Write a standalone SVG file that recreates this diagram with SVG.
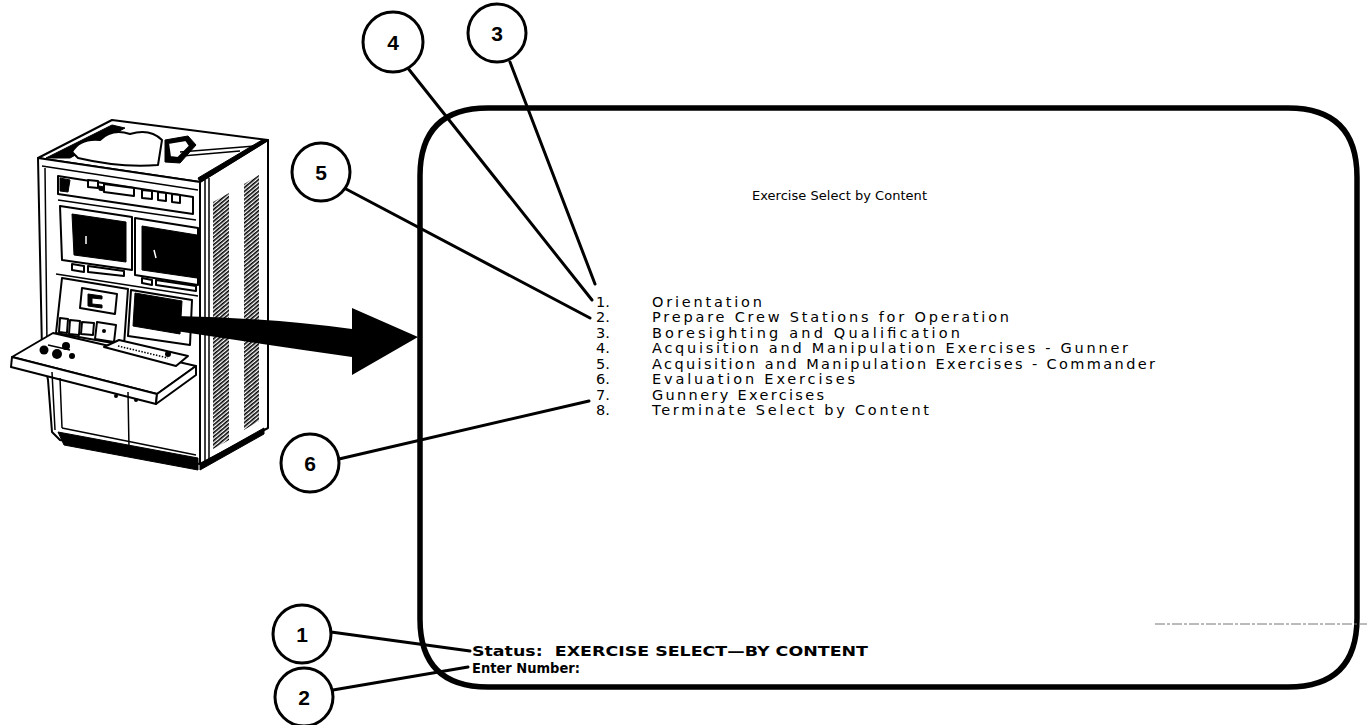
<svg xmlns="http://www.w3.org/2000/svg" width="1367" height="725" viewBox="0 0 1367 725">
  <defs>
    <style>
      .callout circle { fill: #fff; stroke: #000; stroke-width: 3; }
      .callout text { font-family: "Liberation Sans", Arial, sans-serif; font-weight: bold; font-size: 21px; text-anchor: middle; fill: #000; }
      .leader { stroke: #000; stroke-width: 3; fill: none; stroke-linecap: round; }
      .scr { font-family: "DejaVu Sans", "Liberation Sans", sans-serif; font-size: 14.5px; fill: #000; }
      .scrb { font-family: "DejaVu Sans", "Liberation Sans", sans-serif; font-size: 14.5px; font-weight: bold; fill: #000; }
      .ink { stroke: #000; fill: #fff; stroke-width: 2; stroke-linejoin: round; }
      .solid { fill: #000; stroke: #000; stroke-width: 1; stroke-linejoin: round; }
      .thin { stroke: #000; fill: none; stroke-width: 1.5; }
    </style>
    <pattern id="vent" width="3" height="3" patternUnits="userSpaceOnUse" patternTransform="rotate(-40)">
      <rect width="3" height="1.6" fill="#000"/>
    </pattern>
  </defs>

  <rect width="1367" height="725" fill="#fff"/>

  <!-- trainer cabinet illustration -->
  <g id="trainer-cabinet">
    <!-- side panel -->
    <path class="ink" d="M200,182 L268,140 L268,428 L200,464 Z" stroke-width="2.5"/>
    <path class="thin" d="M205,180 L205,462 M209,178 L209,460"/>
    <path d="M213,202 L229,193 L229,440 L213,449 Z" fill="url(#vent)"/>
    <path d="M244,184 L259,175 L259,421 L244,430 Z" fill="url(#vent)"/>
    <!-- top -->
    <path class="ink" d="M38,158 L112,120 L268,140 L200,182 Z" stroke-width="3"/>
    <path class="solid" d="M46,158 L112,125 L125,128 L70,158 Z"/>
    <path class="ink" d="M72,152 Q80,138 100,140 Q112,128 130,134 Q150,128 162,140 L158,165 Q120,168 78,158 Z" stroke-width="1.5"/>
    <path class="solid" d="M165,140 L188,136 L196,145 L180,163 L165,162 Z"/>
    <path class="ink" d="M168,143 L186,140 L190,146 L178,158 L170,157 Z" stroke-width="1"/>
    <path class="thin" d="M180,152 L255,146 M182,156 L240,151" stroke-width="1"/>
    <path class="solid" d="M200,182 L268,140 L262,140 L198,178 Z"/>
    <!-- front face -->
    <path class="ink" d="M38,158 L200,182 L200,464 L60,440 L52,432 L48,380 L42,350 Z" stroke-width="2.5"/>
    <path class="thin" d="M42,166 L198,190 M45,168 L47,345"/>
    <!-- upper control strip -->
    <path class="ink" d="M58,176 L193,197 L193,214 L58,194 Z" stroke-width="1.5"/>
    <path class="solid" d="M60,178 L70,180 L68,192 L60,191 Z"/>
    <path class="ink" d="M88,180 L98,181 L98,188 L88,187 Z" stroke-width="1.5"/>
    <path class="ink" d="M104,184 L134,188 L134,196 L104,192 Z" stroke-width="1.5"/>
    <path class="solid" d="M99,186 L104,187 L104,191 L99,190 Z"/>
    <path class="ink" d="M142,190 L152,191 L152,199 L142,198 Z" stroke-width="1.5"/>
    <path class="ink" d="M158,192 L166,193 L166,201 L158,200 Z" stroke-width="1.5"/>
    <path class="ink" d="M172,194 L180,195 L180,203 L172,202 Z" stroke-width="1.5"/>
    <path class="thin" d="M58,200 L196,220"/>
    <!-- monitor bay -->
    <path class="ink" d="M60,206 L132,217 L132,270 L62,260 Z" stroke-width="2"/>
    <path class="solid" d="M72,214 L126,222 L126,262 L74,255 Z"/>
    <path class="ink" d="M135,218 L198,228 L198,285 L135,275 Z" stroke-width="2"/>
    <path class="solid" d="M142,226 L197,235 L197,278 L142,270 Z"/>
    <path d="M86,236 L86,244 M154,250 L156,258" stroke="#fff" stroke-width="1.5"/>
    <path class="ink" d="M72,264 L84,266 L84,272 L72,270 Z" stroke-width="1.2"/>
    <path class="ink" d="M88,266 L124,271 L124,276 L88,272 Z" stroke-width="1.2"/>
    <path class="ink" d="M142,278 L152,280 L152,285 L142,283 Z" stroke-width="1.2"/>
    <path class="ink" d="M156,280 L196,286 L196,291 L156,285 Z" stroke-width="1.2"/>
    <path class="thin" d="M56,274 L198,296"/>
    <!-- lower console panel -->
    <path class="ink" d="M62,278 L128,289 L124,345 L56,333 Z" stroke-width="2"/>
    <path class="ink" d="M82,288 L117,294 L115,314 L80,308 Z" stroke-width="2"/>
    <path class="solid" d="M88,294 L102,296 L102,299 L92,298 L92,304 L102,305 L102,308 L88,306 Z"/>
    <path class="ink" d="M60,318 L68,319 L67,333 L59,332 Z" stroke-width="1.2"/>
    <path class="ink" d="M70,320 L80,321 L79,335 L69,334 Z" stroke-width="1.2"/>
    <path class="ink" d="M82,322 L94,323 L93,335 L81,334 Z" stroke-width="1.2"/>
    <path class="ink" d="M97,322 L116,325 L114,342 L95,339 Z" stroke-width="1.2"/>
    <circle cx="104" cy="331" r="2" fill="#000"/>
    <!-- small display -->
    <path class="ink" d="M131,290 L192,300 L190,345 L128,336 Z" stroke-width="2"/>
    <path class="solid" d="M135,293 L182,301 L180,334 L133,326 Z"/>
    <!-- desk shelf -->
    <path class="ink" d="M12,357 L53,333 L196,366 L157,394 Z" stroke-width="2.5"/>
    <path class="ink" d="M12,357 L157,394 L156,404 L11,367 Z" stroke-width="2"/>
    <path class="ink" d="M157,394 L196,366 L196,375 L156,404 Z" stroke-width="2"/>
    <!-- keyboard -->
    <path class="ink" d="M104,347 L119,340 L188,356 L176,366 Z" stroke-width="2"/>
    <path class="thin" d="M118,346 L168,358" stroke-width="2.5" stroke-dasharray="1.5 1.5"/>
    <circle cx="168" cy="354" r="3" fill="#000"/>
    <!-- hand controls -->
    <circle cx="44" cy="350" r="4.5" fill="#000"/>
    <circle cx="57" cy="354" r="5" fill="#000"/>
    <circle cx="66" cy="346" r="4" fill="#000"/>
    <circle cx="72" cy="356" r="3" fill="#000"/>
    <path class="thin" d="M48,345 L70,350"/>
    <!-- lower cabinet -->
    <path class="thin" d="M52,372 L55,430 M60,378 L62,428 M128,392 L129,448" stroke-width="2"/>
    <path class="thin" d="M62,428 L196,455" stroke-width="2"/>
    <path class="solid" d="M58,432 L198,458 L198,470 L64,445 Z"/>
    <path class="solid" d="M200,464 L264,428 L264,434 L200,470 Z"/>
    <circle cx="116" cy="396" r="2" fill="#000"/>
    <circle cx="136" cy="400" r="2" fill="#000"/>
  </g>

  <!-- pointer arrow from cabinet display to the enlarged screen -->
  <g id="pointer-arrow">
    <path d="M176,316 Q270,318 352,329 L352,308 L418,337 L352,375 L352,357 Q262,344 176,331 Z" fill="#000"/>
  </g>

  <!-- enlarged display screen -->
  <g id="screen">
    <path d="M488,108 L1288,108 Q1357,108 1357,177 L1357,618 Q1357,687 1288,687 L488,687 Q420,687 420,619 L420,176 Q420,108 488,108 Z" fill="none" stroke="#000" stroke-width="5.5"/>
    <line x1="1155" y1="624" x2="1367" y2="624" stroke="#777" stroke-width="1" stroke-dasharray="10 2 3 2"/>
    <text class="scr" x="752" y="200" style="font-size:13px" textLength="175" lengthAdjust="spacing">Exercise Select by Content</text>
    <g class="scr">
      <text x="596" y="307">1.</text><text x="652" y="307" textLength="110" lengthAdjust="spacing">Orientation</text>
      <text x="596" y="322">2.</text><text x="652" y="322" textLength="357" lengthAdjust="spacing">Prepare Crew Stations for Operation</text>
      <text x="596" y="338">3.</text><text x="652" y="338" textLength="308" lengthAdjust="spacing">Boresighting and Qualification</text>
      <text x="596" y="353">4.</text><text x="652" y="353" textLength="476" lengthAdjust="spacing">Acquisition and Manipulation Exercises - Gunner</text>
      <text x="596" y="369">5.</text><text x="652" y="369" textLength="503" lengthAdjust="spacing">Acquisition and Manipulation Exercises - Commander</text>
      <text x="596" y="384">6.</text><text x="652" y="384" textLength="203" lengthAdjust="spacing">Evaluation Exercises</text>
      <text x="596" y="400">7.</text><text x="652" y="400" textLength="172" lengthAdjust="spacing">Gunnery Exercises</text>
      <text x="596" y="415">8.</text><text x="652" y="415" textLength="277" lengthAdjust="spacing">Terminate Select by Content</text>
    </g>
    <text class="scrb" x="472" y="656" xml:space="preserve" textLength="396" lengthAdjust="spacingAndGlyphs">Status:  EXERCISE SELECT—BY CONTENT</text>
    <text class="scrb" x="472" y="673" textLength="108" lengthAdjust="spacingAndGlyphs">Enter Number:</text>
  </g>

  <!-- leader lines from callouts -->
  <g id="connectors">
    <line class="leader" x1="510" y1="62" x2="595" y2="284"/>
    <line class="leader" x1="407" y1="67" x2="592" y2="300"/>
    <line class="leader" x1="346" y1="189" x2="590" y2="318"/>
    <line class="leader" x1="339" y1="459" x2="589" y2="401"/>
    <line class="leader" x1="331" y1="632" x2="470" y2="651"/>
    <line class="leader" x1="333" y1="690" x2="468" y2="667"/>
  </g>

  <!-- numbered callouts -->
  <g id="callout-1" class="callout"><circle cx="302" cy="634" r="29"/><text x="302" y="642">1</text></g>
  <g id="callout-2" class="callout"><circle cx="304" cy="697" r="29"/><text x="304" y="705">2</text></g>
  <g id="callout-3" class="callout"><circle cx="497" cy="33" r="29"/><text x="497" y="41">3</text></g>
  <g id="callout-4" class="callout"><circle cx="393" cy="42" r="30"/><text x="393" y="50">4</text></g>
  <g id="callout-5" class="callout"><circle cx="321" cy="172" r="29"/><text x="321" y="180">5</text></g>
  <g id="callout-6" class="callout"><circle cx="310" cy="463" r="29"/><text x="310" y="471">6</text></g>
</svg>
